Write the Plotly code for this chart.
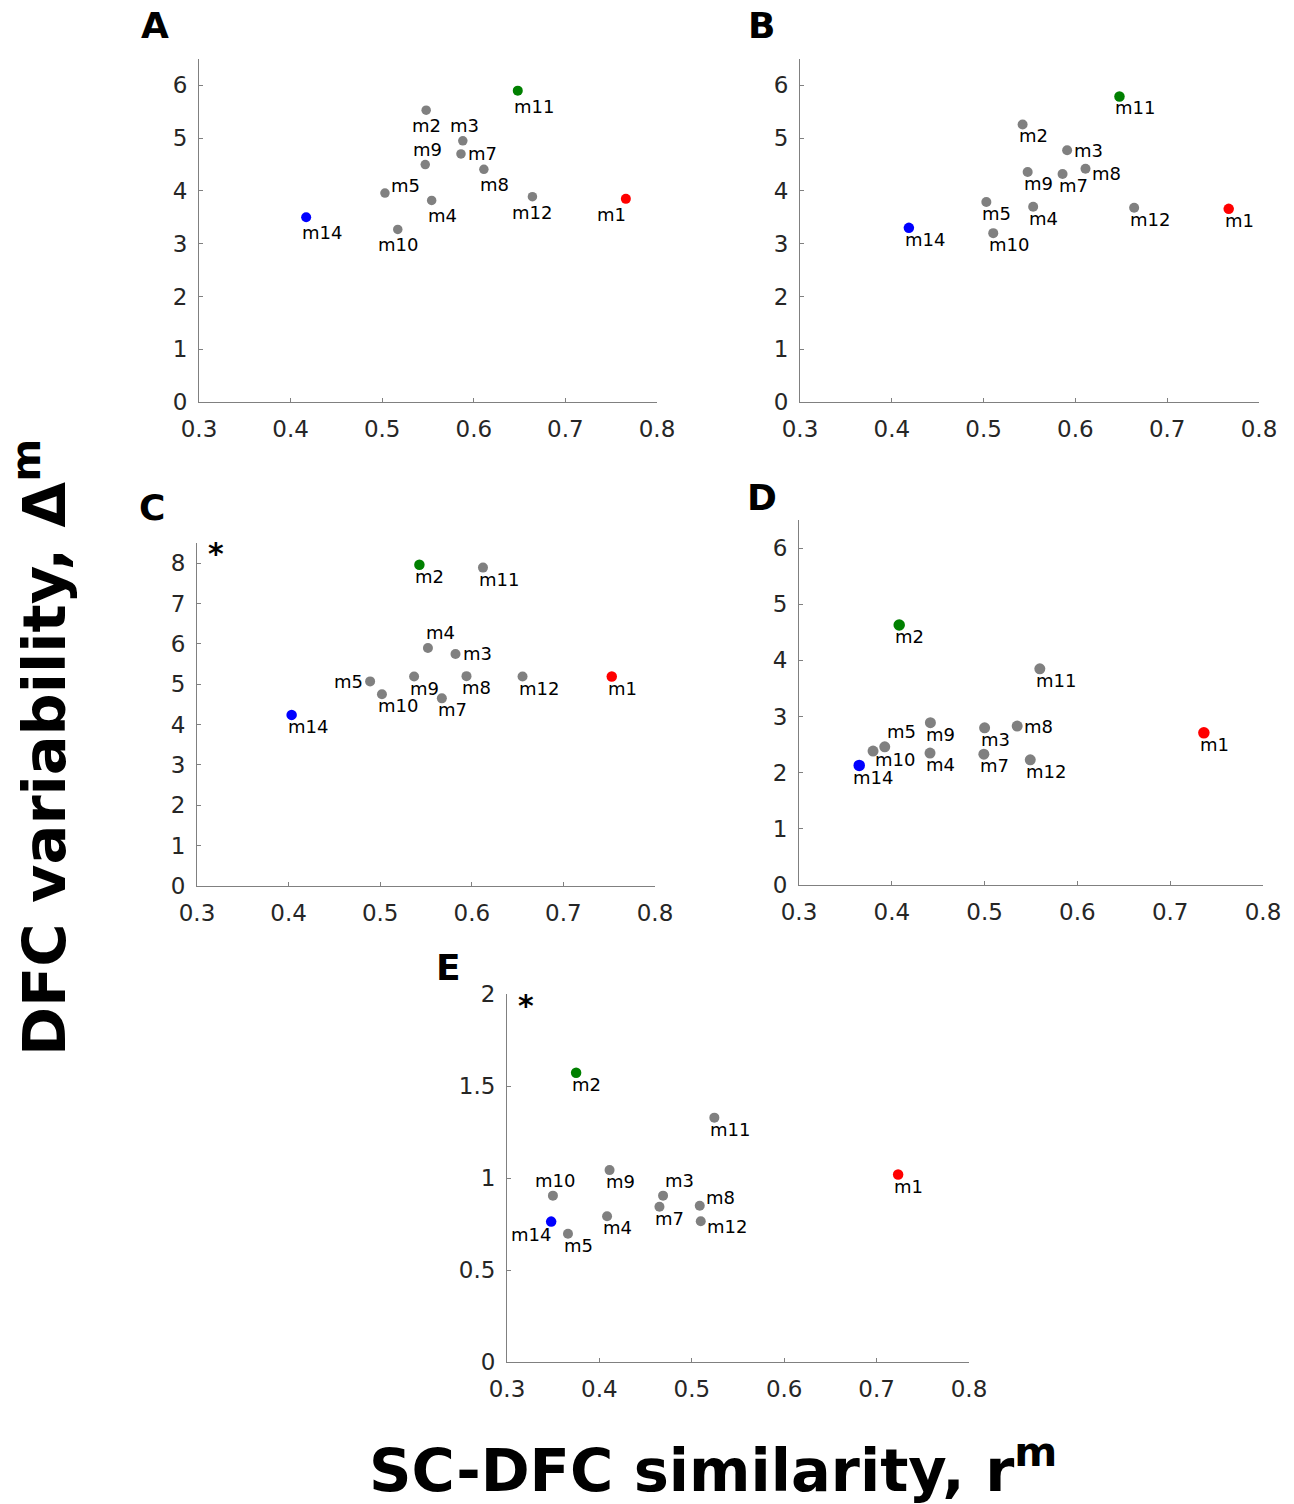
import plotly.graph_objects as go

# ---------------- data ----------------
models = ["m1", "m2", "m3", "m4", "m5", "m7", "m8", "m9", "m10", "m11", "m12", "m14"]

sim_A = [0.766, 0.548, 0.588, 0.554, 0.503, 0.586, 0.611, 0.547, 0.517, 0.648, 0.664, 0.417]
var_A = [3.85, 5.53, 4.95, 3.82, 3.96, 4.70, 4.41, 4.50, 3.27, 5.90, 3.89, 3.50]

sim_B = [0.767, 0.5425, 0.591, 0.554, 0.503, 0.586, 0.611, 0.548, 0.5105, 0.648, 0.664, 0.4186]
var_B = [3.66, 5.26, 4.77, 3.70, 3.79, 4.32, 4.42, 4.36, 3.20, 5.79, 3.68, 3.30]

sim_C = [0.7528, 0.5428, 0.5822, 0.5521, 0.489, 0.5673, 0.5942, 0.537, 0.5019, 0.6122, 0.6554, 0.4033]
var_C = [5.19, 7.96, 5.75, 5.90, 5.07, 4.65, 5.20, 5.19, 4.75, 7.89, 5.19, 4.24]

sim_D = [0.7363, 0.408, 0.500, 0.4412, 0.3924, 0.4992, 0.5351, 0.4416, 0.3798, 0.5595, 0.5492, 0.3649]
var_D = [2.71, 4.63, 2.80, 2.35, 2.46, 2.33, 2.83, 2.89, 2.385, 3.85, 2.23, 2.13]

sim_E = [0.7233, 0.3748, 0.4689, 0.4083, 0.366, 0.465, 0.5086, 0.411, 0.3497, 0.5244, 0.5097, 0.3478]
var_E = [1.019, 1.572, 0.904, 0.792, 0.697, 0.8435, 0.849, 1.043, 0.904, 1.328, 0.765, 0.763]

x_ticks = [0.3, 0.4, 0.5, 0.6, 0.7, 0.8]
x_ticklabels = ["0.3", "0.4", "0.5", "0.6", "0.7", "0.8"]
y_ticks_6 = [0, 1, 2, 3, 4, 5, 6]
y_ticks_8 = [0, 1, 2, 3, 4, 5, 6, 7, 8]
y_ticks_E = [0, 0.5, 1, 1.5, 2]
y_ticklabels_E = ["0", "0.5", "1", "1.5", "2"]

# label placement codes (style only), same order as models
lab_A = ["SWa", "SCa", "NC", "Sa", "EN", "E", "Sa", "NC", "SCa", "Sa", "SCa", "Sa"]
lab_B = ["S", "S", "E", "S", "S", "S", "ES", "S", "S", "S", "S", "S"]
lab_C = ["S", "S", "E", "N", "W", "S", "S", "S", "S", "S", "S", "S"]
lab_D = ["S", "S", "S", "S", "NE", "S", "E", "S", "Sr", "S", "S", "Sl"]
lab_E = ["S", "S", "NE", "S", "S", "S", "EN", "S", "NC", "S", "ES", "SW"]

POS = {
    "S": ("left", "top", -6, 1),
    "Sr": ("left", "top", 0, 4),
    "Sl": ("left", "top", -8, 0),
    "Sa": ("left", "top", -6, -3),
    "SCa": ("center", "top", 0, -3),
    "SWa": ("right", "top", 2, -3),
    "SW": ("right", "top", 2, 0),
    "N": ("left", "bottom", -4, 3),
    "NC": ("center", "bottom", 2, 3),
    "NE": ("left", "bottom", 0, 3),
    "E": ("left", "middle", 5, 0),
    "ES": ("left", "middle", 4, -5),
    "EN": ("left", "middle", 4, 8),
    "W": ("right", "middle", -5, 0),
}

W, H = 1294, 1504
FONT = "DejaVu Sans"
AXIS_COL = "#808080"
TICK_COL = "#262626"

panels = [
    dict(letter="A", x=sim_A, y=var_A, lab=lab_A, green="m11", box=(199, 657, 59, 402),
         yrange=[0, 6.5], yticks=y_ticks_6, yticktext=[str(v) for v in y_ticks_6],
         letter_px=(155, 26), star=False, msize=(9.5, 10)),
    dict(letter="B", x=sim_B, y=var_B, lab=lab_B, green="m11", box=(800, 1259, 59, 402),
         yrange=[0, 6.5], yticks=y_ticks_6, yticktext=[str(v) for v in y_ticks_6],
         letter_px=(762, 26), star=False, msize=(10, 10.5)),
    dict(letter="C", x=sim_C, y=var_C, lab=lab_C, green="m2", box=(197, 655, 543, 886),
         yrange=[0, 8.5], yticks=y_ticks_8, yticktext=[str(v) for v in y_ticks_8],
         letter_px=(152, 507), star=True, msize=(10, 10.5)),
    dict(letter="D", x=sim_D, y=var_D, lab=lab_D, green="m2", box=(799, 1263, 520, 885),
         yrange=[0, 6.5], yticks=y_ticks_6, yticktext=[str(v) for v in y_ticks_6],
         letter_px=(762, 498), star=False, msize=(11, 11.5)),
    dict(letter="E", x=sim_E, y=var_E, lab=lab_E, green="m2", box=(507, 969, 994, 1362),
         yrange=[0, 2.0], yticks=y_ticks_E, yticktext=y_ticklabels_E,
         letter_px=(448, 968), star=True, msize=(10, 10.5)),
]

fig = go.Figure()
layout = dict(
    width=W, height=H,
    margin=dict(l=0, r=0, t=0, b=0, autoexpand=False),
    paper_bgcolor="white", plot_bgcolor="white",
    showlegend=False,
    font=dict(family=FONT),
)
annotations = []

for i, p in enumerate(panels, start=1):
    xa = "x" if i == 1 else f"x{i}"
    ya = "y" if i == 1 else f"y{i}"
    xkey = "xaxis" if i == 1 else f"xaxis{i}"
    ykey = "yaxis" if i == 1 else f"yaxis{i}"
    x0, x1, y0, y1 = p["box"]
    s_gray, s_col = p["msize"]

    colors, sizes = [], []
    for m in models:
        if m == "m1":
            colors.append("#FF0000"); sizes.append(s_col)
        elif m == "m14":
            colors.append("#0000FF"); sizes.append(s_col)
        elif m == p["green"]:
            colors.append("#008000"); sizes.append(s_col)
        else:
            colors.append("#808080"); sizes.append(s_gray)

    fig.add_trace(go.Scatter(
        x=p["x"], y=p["y"], mode="markers",
        marker=dict(color=colors, size=sizes, opacity=1, line=dict(width=0)),
        xaxis=xa, yaxis=ya, hoverinfo="skip", showlegend=False,
    ))

    for m, xv, yv, code in zip(models, p["x"], p["y"], p["lab"]):
        xanc, yanc, dx, dy = POS[code]
        annotations.append(dict(
            x=xv, y=yv, xref=xa, yref=ya, text=m, showarrow=False,
            xanchor=xanc, yanchor=yanc, xshift=dx, yshift=dy,
            font=dict(family=FONT, size=18, color="black"),
        ))

    common = dict(
        showline=True, linecolor=AXIS_COL, linewidth=1, mirror=False,
        ticks="inside", ticklen=4, tickcolor=AXIS_COL, tickwidth=1,
        showgrid=False, zeroline=False, fixedrange=True, automargin=False,
        tickfont=dict(family=FONT, size=23, color=TICK_COL),
    )
    layout[xkey] = dict(
        domain=[x0 / W, x1 / W], anchor=ya, range=[0.3, 0.8],
        tickmode="array", tickvals=x_ticks, ticktext=x_ticklabels,
        ticklabelstandoff=6, **common,
    )
    layout[ykey] = dict(
        domain=[1 - y1 / H, 1 - y0 / H], anchor=xa, range=p["yrange"],
        tickmode="array", tickvals=p["yticks"], ticktext=p["yticktext"],
        ticklabelstandoff=6, **common,
    )

    lx, ly = p["letter_px"]
    annotations.append(dict(
        x=lx / W, y=1 - ly / H, xref="paper", yref="paper", text=p["letter"],
        showarrow=False, xanchor="center", yanchor="middle",
        font=dict(family=FONT, size=36, color="black", weight="bold"),
    ))
    if p["star"]:
        annotations.append(dict(
            x=0.02, y=0.97, xref=f"{xa} domain", yref=f"{ya} domain", text="*",
            showarrow=False, xanchor="left", yanchor="middle",
            font=dict(family=FONT, size=30, color="black", weight="bold"),
        ))

# shared axis titles
annotations.append(dict(
    x=40 / W, y=1 - 748 / H, xref="paper", yref="paper",
    text="DFC variability, Δ<sup>m</sup>", textangle=-90, showarrow=False,
    xanchor="center", yanchor="middle",
    font=dict(family=FONT, size=59, color="black", weight="bold"),
))
annotations.append(dict(
    x=713 / W, y=1 - 1466 / H, xref="paper", yref="paper",
    text="SC-DFC similarity, r<sup>m</sup>", showarrow=False,
    xanchor="center", yanchor="middle",
    font=dict(family=FONT, size=59, color="black", weight="bold"),
))

layout["annotations"] = annotations
fig.update_layout(**layout)

fig.write_html("out.html", config={"displayModeBar": False},
               post_script="document.body.style.margin='0';")
